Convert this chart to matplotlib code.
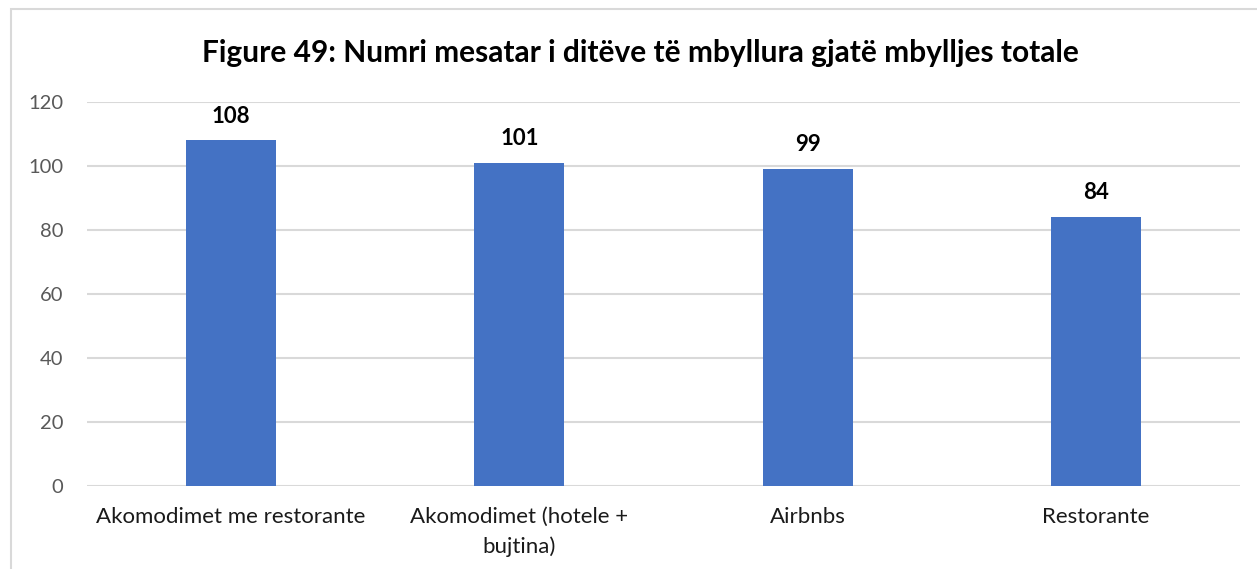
import matplotlib.pyplot as plt
from matplotlib.patches import Rectangle

plt.rcParams['font.family'] = ['Lato', 'DejaVu Sans']

categories = ['Akomodimet me restorante', 'Akomodimet (hotele +\nbujtina)', 'Airbnbs', 'Restorante']
values = [108, 101, 99, 84]
yticks = [0, 20, 40, 60, 80, 100, 120]
title = 'Figure 49: Numri mesatar i ditëve të mbyllura gjatë mbylljes totale'

fig = plt.figure(figsize=(12.57, 5.69), dpi=100)
ax = fig.add_axes([87 / 1257, 1 - 486 / 569, (1240 - 87) / 1257, (486 - 102) / 569])

x = range(len(categories))
bars = ax.bar(x, values, width=0.312, color='#4472C4', zorder=3)
ax.bar_label(bars, labels=[str(v) for v in values], padding=10,
             fontsize=16, fontweight='bold', color='black')

ax.set_xlim(-0.5, len(categories) - 0.5)
ax.set_ylim(0, 120)
ax.set_yticks(yticks)
ax.set_xticks(list(x))
ax.set_xticklabels(categories, fontsize=16, color='#1a1a1a', linespacing=1.55)
ax.tick_params(axis='y', labelsize=14.5, labelcolor='#595959', length=0, pad=17)
ax.tick_params(axis='x', length=0, pad=15)
ax.grid(axis='y', color='#d9d9d9', linewidth=1.5, zorder=0)
for s in ax.spines.values():
    s.set_visible(False)

fig.text(640 / 1257, 1 - 53 / 569, title, ha='center', va='center',
         fontsize=21.5, fontweight='bold', color='black')

# light frame around the chart area
fig.patches.append(Rectangle((11 / 1257, -0.1), 1.1, 1 - 9 / 569 + 0.1,
                             transform=fig.transFigure, fill=False,
                             edgecolor='#d9d9d9', linewidth=1.5))

fig.savefig('out.png', dpi=100)
